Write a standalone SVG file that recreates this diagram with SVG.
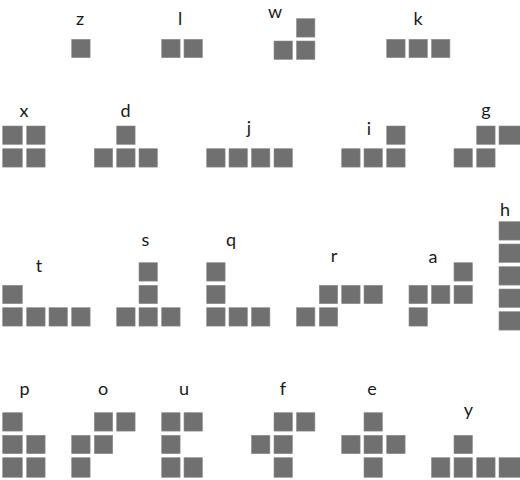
<svg xmlns="http://www.w3.org/2000/svg" xmlns:xlink="http://www.w3.org/1999/xlink" width="520" height="480" viewBox="0 0 520 480">
<style>
.b{fill:#707070;stroke:#8e8e8e;stroke-width:0.6}
.t{font-family:Lato,"Liberation Sans",sans-serif;font-size:18px;font-weight:400;fill:#1a1a1a;text-anchor:middle}
</style>
<defs>
<rect id="s" width="18.4" height="18.4"/>
<rect id="sl" width="19.6" height="18.4"/>
<rect id="sw" width="21.5" height="18.4"/>
<rect id="sb" width="18.4" height="19.6"/>
<rect id="sbl" width="19.6" height="19.6"/>
<rect id="sbw" width="21.5" height="19.6"/>
</defs>
<rect width="520" height="480" fill="#fff"/>
<g id="z"><text class="t" x="80" y="25">z</text><use class="b" href="#s" x="71.7" y="39.3"/></g>
<g id="l"><text class="t" x="180" y="25">l</text><use class="b" href="#s" x="161.7" y="39.3"/><use class="b" href="#s" x="184" y="39.3"/></g>
<g id="w"><text class="t" x="275" y="18">w</text><use class="b" href="#s" x="296.5" y="18.7"/><use class="b" href="#s" x="274" y="41"/><use class="b" href="#s" x="296.5" y="41"/></g>
<g id="k"><text class="t" x="418" y="25">k</text><use class="b" href="#s" x="386.7" y="39.3"/><use class="b" href="#s" x="409" y="39.3"/><use class="b" href="#s" x="431.5" y="39.3"/></g>
<g id="x"><text class="t" x="24" y="116.5">x</text><use class="b" href="#sl" x="2.7" y="126"/><use class="b" href="#s" x="26.7" y="126"/><use class="b" href="#sl" x="2.7" y="148.7"/><use class="b" href="#s" x="26.7" y="148.7"/></g>
<g id="d"><text class="t" x="125.5" y="116.5">d</text><use class="b" href="#s" x="116.7" y="126"/><use class="b" href="#s" x="94.3" y="148.7"/><use class="b" href="#s" x="116.7" y="148.7"/><use class="b" href="#s" x="139" y="148.7"/></g>
<g id="j"><text class="t" x="249" y="134">j</text><use class="b" href="#s" x="206.7" y="148.7"/><use class="b" href="#s" x="229" y="148.7"/><use class="b" href="#s" x="251.5" y="148.7"/><use class="b" href="#s" x="274" y="148.7"/></g>
<g id="i"><text class="t" x="369" y="134.5">i</text><use class="b" href="#s" x="386.7" y="126"/><use class="b" href="#s" x="341.7" y="148.7"/><use class="b" href="#s" x="364" y="148.7"/><use class="b" href="#s" x="386.7" y="148.7"/></g>
<g id="g"><text class="t" x="486" y="115.5">g</text><use class="b" href="#s" x="476.7" y="126"/><use class="b" href="#sw" x="499" y="126"/><use class="b" href="#s" x="454" y="148.7"/><use class="b" href="#s" x="476.7" y="148.7"/></g>
<g id="t"><text class="t" x="39" y="272">t</text><use class="b" href="#sl" x="2.7" y="285.3"/><use class="b" href="#sl" x="2.7" y="307.7"/><use class="b" href="#s" x="26.7" y="307.7"/><use class="b" href="#s" x="49" y="307.7"/><use class="b" href="#s" x="71.7" y="307.7"/></g>
<g id="s_"><text class="t" x="145.5" y="246">s</text><use class="b" href="#s" x="139" y="262.7"/><use class="b" href="#s" x="139" y="285.3"/><use class="b" href="#s" x="116.7" y="307.7"/><use class="b" href="#s" x="139" y="307.7"/><use class="b" href="#s" x="161.7" y="307.7"/></g>
<g id="q"><text class="t" x="231" y="246">q</text><use class="b" href="#s" x="206.7" y="262.7"/><use class="b" href="#s" x="206.7" y="285.3"/><use class="b" href="#s" x="206.7" y="307.7"/><use class="b" href="#s" x="229" y="307.7"/><use class="b" href="#s" x="251.5" y="307.7"/></g>
<g id="r"><text class="t" x="334" y="262">r</text><use class="b" href="#s" x="319.3" y="285.3"/><use class="b" href="#s" x="341.7" y="285.3"/><use class="b" href="#s" x="364" y="285.3"/><use class="b" href="#s" x="296.5" y="307.7"/><use class="b" href="#s" x="319.3" y="307.7"/></g>
<g id="a"><text class="t" x="433" y="263">a</text><use class="b" href="#s" x="454" y="262.7"/><use class="b" href="#s" x="409" y="285.3"/><use class="b" href="#s" x="431.5" y="285.3"/><use class="b" href="#s" x="454" y="285.3"/><use class="b" href="#s" x="409" y="307.7"/></g>
<g id="h"><text class="t" x="505" y="216">h</text><use class="b" href="#sw" x="499" y="221.7"/><use class="b" href="#sw" x="499" y="244"/><use class="b" href="#sw" x="499" y="266.7"/><use class="b" href="#sw" x="499" y="289"/><use class="b" href="#sw" x="499" y="311.7"/></g>
<g id="p"><text class="t" x="24.5" y="394.5">p</text><use class="b" href="#sl" x="2.7" y="412.7"/><use class="b" href="#sl" x="2.7" y="435.3"/><use class="b" href="#s" x="26.7" y="435.3"/><use class="b" href="#sbl" x="2.7" y="457.7"/><use class="b" href="#sb" x="26.7" y="457.7"/></g>
<g id="o"><text class="t" x="103" y="395">o</text><use class="b" href="#s" x="94.3" y="412.7"/><use class="b" href="#s" x="116.7" y="412.7"/><use class="b" href="#s" x="71.7" y="435.3"/><use class="b" href="#s" x="94.3" y="435.3"/><use class="b" href="#sb" x="71.7" y="457.7"/></g>
<g id="u"><text class="t" x="184" y="395">u</text><use class="b" href="#s" x="161.7" y="412.7"/><use class="b" href="#s" x="184" y="412.7"/><use class="b" href="#s" x="161.7" y="435.3"/><use class="b" href="#sb" x="161.7" y="457.7"/><use class="b" href="#sb" x="184" y="457.7"/></g>
<g id="f"><text class="t" x="283" y="395">f</text><use class="b" href="#s" x="274" y="412.7"/><use class="b" href="#s" x="296.5" y="412.7"/><use class="b" href="#s" x="251.5" y="435.3"/><use class="b" href="#s" x="274" y="435.3"/><use class="b" href="#sb" x="274" y="457.7"/></g>
<g id="e"><text class="t" x="372" y="395">e</text><use class="b" href="#s" x="364" y="412.7"/><use class="b" href="#s" x="341.7" y="435.3"/><use class="b" href="#s" x="364" y="435.3"/><use class="b" href="#s" x="386.7" y="435.3"/><use class="b" href="#sb" x="364" y="457.7"/></g>
<g id="y"><text class="t" x="468.5" y="416">y</text><use class="b" href="#s" x="454" y="435.3"/><use class="b" href="#sb" x="431.5" y="457.7"/><use class="b" href="#sb" x="454" y="457.7"/><use class="b" href="#sb" x="476.7" y="457.7"/><use class="b" href="#sbw" x="499" y="457.7"/></g>
</svg>
